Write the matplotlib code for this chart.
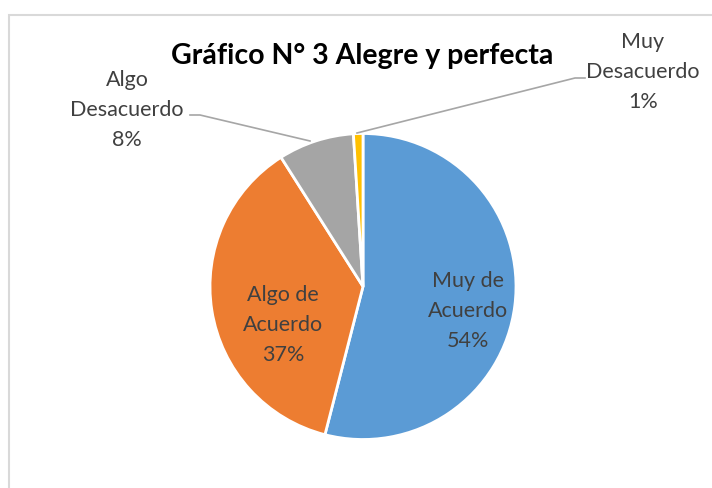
import matplotlib
matplotlib.use("Agg")
import matplotlib.pyplot as plt
from matplotlib.patches import Rectangle

title = "Gráfico N° 3 Alegre y perfecta"
categories = ["Muy de\nAcuerdo", "Algo de\nAcuerdo", "Algo\nDesacuerdo", "Muy\nDesacuerdo"]
values = [54, 37, 8, 1]
colors = ["#5B9BD5", "#ED7D31", "#A5A5A5", "#FFC000"]

W, H = 712, 488
fig = plt.figure(figsize=(W / 100, H / 100), dpi=100)
ax = fig.add_axes([0, 0, 1, 1])

def py(y):
    return H - y

cx, cy, r = 363, py(286.5), 153
wedges, _ = ax.pie(values, colors=colors, startangle=90, counterclock=False,
                   center=(cx, cy), radius=r, frame=True,
                   wedgeprops=dict(edgecolor="white", linewidth=2))
ax.set_xlim(0, W)
ax.set_ylim(0, H)
ax.set_aspect("equal")
ax.axis("off")

# chart border
ax.add_patch(Rectangle((8.5, -10), W + 20, py(14.5) + 10, fill=False,
                       edgecolor="#D9D9D9", linewidth=1.5))

fam = ["Lato", "DejaVu Sans"]
tc = "#404040"
ax.text(362, py(56), title, ha="center", va="center", fontsize=20.5,
        fontweight="bold", color="black", family=fam)

labels = [f"{c}\n{v}%" for c, v in zip(categories, values)]
pos = [(468, 311), (283, 325), (127, 110), (643, 72)]
for lab, (x, y) in zip(labels, pos):
    ax.text(x, py(y), lab, ha="center", va="center", fontsize=15.5,
            color=tc, family=fam, linespacing=1.62)

# leader lines
lc = "#A6A6A6"
ax.plot([190, 200, 310], [py(115), py(115), py(141)], color=lc, lw=1.2)
ax.plot([357, 575, 585], [py(133), py(78), py(78)], color=lc, lw=1.2)

fig.savefig("out.png", dpi=100)
